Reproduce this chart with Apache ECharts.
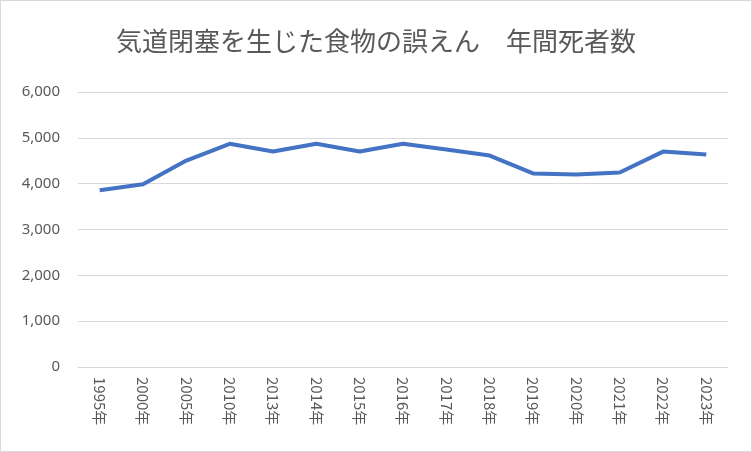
<!DOCTYPE html>
<html><head><meta charset="utf-8">
<script src="https://cdn.jsdelivr.net/npm/echarts@6/dist/echarts.min.js"></script>
<style>html,body{margin:0;padding:0;background:#fff}#c{width:752px;height:452px;box-sizing:border-box;border:1px solid #d9d9d9}</style>
</head><body><div id="c"></div>
<script>
const categories=['1995年','2000年','2005年','2010年','2013年','2014年','2015年','2016年','2017年','2018年','2019年','2020年','2021年','2022年','2023年'];
const deaths=[3855,3985,4505,4869,4700,4870,4700,4870,4745,4613,4223,4200,4245,4700,4635];
const yTicks={min:0,max:6000,interval:1000};
const chart=echarts.init(document.getElementById('c'));
chart.setOption({
 animation:false,
 title:{text:'気道閉塞を生じた食物の誤えん　年間死者数',left:'center',top:22,textStyle:{fontFamily:'Noto Sans CJK JP',fontWeight:'normal',fontSize:26,color:'#595959'}},
 grid:{left:77,right:23,top:91,bottom:84},
 xAxis:{type:'category',data:categories,boundaryGap:true,
  axisLine:{lineStyle:{color:'#d9d9d9'}},axisTick:{show:false},
  axisLabel:{rotate:-90,color:'#595959',fontSize:15,fontFamily:'Noto Sans CJK JP',margin:10}},
 yAxis:{type:'value',min:yTicks.min,max:yTicks.max,interval:yTicks.interval,
  axisLabel:{color:'#595959',fontSize:15,fontFamily:'Noto Sans',margin:18,formatter:v=>v.toLocaleString('en-US')},
  splitLine:{lineStyle:{color:'#d9d9d9'}},axisLine:{show:false}},
 series:[{type:'line',data:deaths,symbol:'none',lineStyle:{color:'#4472c4',width:4}}]
});
</script></body></html>
